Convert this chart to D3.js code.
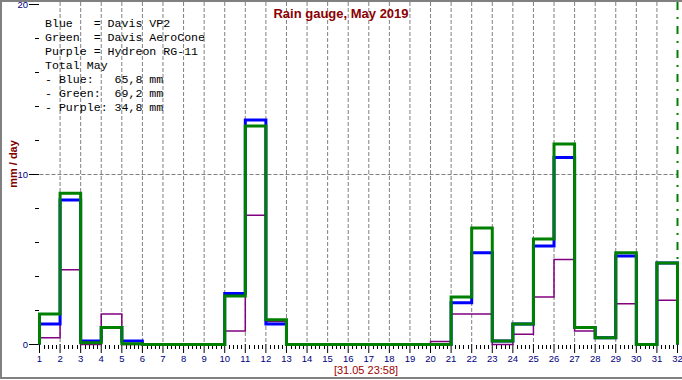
<!DOCTYPE html>
<html>
<head>
<meta charset="utf-8">
<script src="https://cdn.jsdelivr.net/npm/d3@7"></script>
<style>
  body { margin: 0; background: #fff; }
  svg { display: block; }
</style>
</head>
<body>
<svg width="682" height="380"></svg>
<script>
// days of May 2019, one bar per day (tick n = start of day n)
var days = d3.range(1, 32);

// mm per day
var blue   = [1.2, 8.5, 0.2, 1.0, 0.2, 0, 0, 0, 0, 3.0, 13.2, 1.2, 0, 0, 0, 0, 0, 0, 0, 0,
              2.45, 5.4, 0.2, 1.2, 5.8, 11.0, 1.0, 0.4, 5.2, 0, 4.8];
var green  = [1.8, 8.9, 0.1, 1.0, 0.05, 0, 0, 0, 0, 2.85, 12.85, 1.45, 0, 0, 0, 0, 0, 0, 0, 0,
              2.8, 6.85, 0.2, 1.2, 6.2, 11.8, 1.0, 0.4, 5.4, 0, 4.8];
var purple = [0.4, 4.4, 0, 1.8, 0, 0, 0, 0, 0, 0.8, 7.6, 1.35, 0, 0, 0, 0, 0, 0, 0, 0.18,
              1.8, 1.8, 0, 0.6, 2.8, 5.0, 0.8, 0.4, 2.4, 0.05, 2.6];

var xTicks = d3.range(1, 33);
var yMajor = [0, 10, 20];
var yMinor = [2, 4, 6, 8, 12, 14, 16, 18];

var legendLines = [
  "Blue   = Davis VP2",
  "Green  = Davis AeroCone",
  "Purple = Hydreon RG-11",
  "Total May",
  "- Blue:   65,8 mm",
  "- Green:  69,2 mm",
  "- Purple: 34,8 mm"
];

var title = "Rain gauge, May 2019";
var stamp = "[31.05 23:58]";

var svg = d3.select("svg");

var x = d3.scaleLinear()
  .domain([1, 32])
  .range([39.5, 677.5]);

var y = d3.scaleLinear()
  .domain([0, 20])
  .range([344.5, 4.5]);

// frame
svg.append("rect")
  .attr("x", 1).attr("y", 1)
  .attr("width", 700).attr("height", 377)
  .attr("fill", "#fff")
  .attr("stroke", "#808080")
  .attr("stroke-width", 2);

// dashed grid: every day + the 10 mm line
svg.append("g").selectAll("line")
  .data(d3.range(2, 32))
  .enter().append("line")
    .attr("x1", function(d) { return x(d); })
    .attr("x2", function(d) { return x(d); })
    .attr("y1", 2)
    .attr("y2", y(0))
    .attr("stroke", "#808080")
    .attr("stroke-dasharray", "4,2");

svg.append("line")
  .attr("x1", x(1)).attr("x2", x(32))
  .attr("y1", y(10)).attr("y2", y(10))
  .attr("stroke", "#808080")
  .attr("stroke-dasharray", "4,2");

// "now" marker at the end of the month
svg.append("line")
  .attr("x1", x(32)).attr("x2", x(32))
  .attr("y1", 2).attr("y2", y(0))
  .attr("stroke", "#008000")
  .attr("stroke-width", 2)
  .attr("stroke-dasharray", "8,7,2,7");

// y axis: ticks only, no spine
var yAxis = svg.append("g");
yAxis.selectAll(".major")
  .data(yMajor)
  .enter().append("line")
    .attr("x1", 29).attr("x2", 39)
    .attr("y1", function(d) { return y(d); })
    .attr("y2", function(d) { return y(d); })
    .attr("stroke", "#000");
yAxis.selectAll(".minor")
  .data(yMinor)
  .enter().append("line")
    .attr("x1", 35).attr("x2", 39)
    .attr("y1", function(d) { return y(d); })
    .attr("y2", function(d) { return y(d); })
    .attr("stroke", "#000");
yAxis.selectAll("text")
  .data(yMajor)
  .enter().append("text")
    .attr("x", 28)
    .attr("y", function(d) { return y(d) + 3.5; })
    .attr("text-anchor", "end")
    .attr("font-family", "Liberation Sans, Arial, sans-serif")
    .attr("font-size", 9.5)
    .attr("fill", "#000080")
    .text(function(d) { return d; });

// x axis: day ticks + 5 subdivisions
var xAxis = svg.append("g");
var minor = [];
days.forEach(function(d) {
  for (var k = 1; k < 5; k++) minor.push(d + k / 5);
});
xAxis.selectAll(".minor")
  .data(minor)
  .enter().append("line")
    .attr("x1", function(d) { return Math.round(x(d)) + 0.5; })
    .attr("x2", function(d) { return Math.round(x(d)) + 0.5; })
    .attr("y1", 345).attr("y2", 349)
    .attr("stroke", "#000");
xAxis.selectAll(".major")
  .data(xTicks)
  .enter().append("line")
    .attr("x1", function(d) { return x(d); })
    .attr("x2", function(d) { return x(d); })
    .attr("y1", 344).attr("y2", 353)
    .attr("stroke", "#000");
xAxis.selectAll("text")
  .data(xTicks)
  .enter().append("text")
    .attr("x", function(d) { return x(d); })
    .attr("y", 362)
    .attr("text-anchor", "middle")
    .attr("font-family", "Liberation Sans, Arial, sans-serif")
    .attr("font-size", 9.5)
    .attr("fill", "#000080")
    .text(function(d) { return d; });

// step lines, closed down to 0 at both ends
function stepPath(values) {
  var pts = [[1, 0]];
  values.forEach(function(v, i) {
    pts.push([days[i], v]);
    pts.push([days[i] + 1, v]);
  });
  pts.push([32, 0]);
  return d3.line()
    .x(function(d) { return x(d[0]); })
    .y(function(d) { return y(d[1]); })(pts);
}

var series = [
  {values: purple, color: "#800080", w: 1.5},
  {values: blue,   color: "#0000ff", w: 3},
  {values: green,  color: "#008000", w: 3}
];

svg.append("g").selectAll("path")
  .data(series)
  .enter().append("path")
    .attr("d", function(d) { return stepPath(d.values); })
    .attr("fill", "none")
    .attr("stroke", function(d) { return d.color; })
    .attr("stroke-width", function(d) { return d.w; })
    .attr("stroke-linejoin", "miter");

// texts
svg.append("text")
  .attr("x", 341)
  .attr("y", 18)
  .attr("text-anchor", "middle")
  .attr("font-family", "Liberation Sans, Arial, sans-serif")
  .attr("font-size", 13)
  .attr("font-weight", "bold")
  .attr("fill", "#8b0000")
  .text(title);

svg.append("text")
  .attr("transform", "translate(17,164) rotate(-90)")
  .attr("text-anchor", "middle")
  .attr("font-family", "Liberation Sans, Arial, sans-serif")
  .attr("font-size", 11)
  .attr("font-weight", "bold")
  .attr("fill", "#800000")
  .text("mm / day");

svg.append("text")
  .attr("x", 366)
  .attr("y", 374)
  .attr("text-anchor", "middle")
  .attr("font-family", "Liberation Sans, Arial, sans-serif")
  .attr("font-size", 11)
  .attr("fill", "#a00000")
  .text(stamp);

svg.append("g").selectAll("text")
  .data(legendLines)
  .enter().append("text")
    .attr("x", 45)
    .attr("y", function(d, i) { return 27 + i * 14; })
    .attr("font-family", "Liberation Mono, Courier New, monospace")
    .attr("font-size", 11.6)
    .attr("fill", "#000")
    .attr("xml:space", "preserve")
    .style("white-space", "pre")
    .text(function(d) { return d; });
</script>
</body>
</html>
